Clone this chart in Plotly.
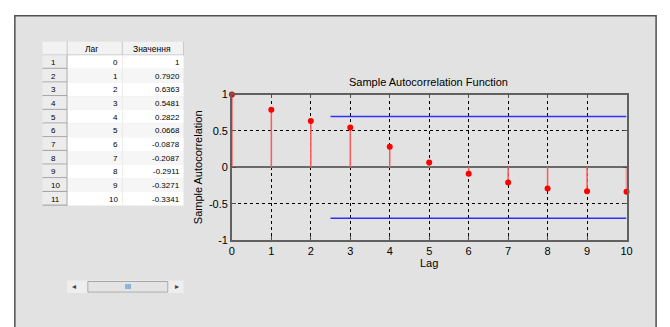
import plotly.graph_objects as go

# ---------------- data ----------------
lags = [0, 1, 2, 3, 4, 5, 6, 7, 8, 9, 10]
acf = [1, 0.7920, 0.6363, 0.5481, 0.2822, 0.0668, -0.0878, -0.2087, -0.2911, -0.3271, -0.3341]
bound_x = [2.5, 10]
bound_upper = [0.7, 0.7]
bound_lower = [-0.7, -0.7]
row_labels = ["1", "2", "3", "4", "5", "6", "7", "8", "9", "10", "11"]
col_headers = ["Лаг", "Значення"]
x_ticks = [0, 1, 2, 3, 4, 5, 6, 7, 8, 9, 10]
y_ticks = [-1, -0.5, 0, 0.5, 1]
y_ticklabels = ["-1", "-0.5", "0", "0.5", "1"]

W, H = 670, 327
def fx(p): return p / W
def fy(p): return 1 - p / H

FONT = "Liberation Sans"
BG = "#e2e2e2"

fig = go.Figure()

# stems
sx, sy = [], []
for x, v in zip(lags, acf):
    sx += [x, x, None]
    sy += [0, v, None]
fig.add_trace(go.Scatter(x=sx, y=sy, mode="lines", line=dict(color="#ff5a5a", width=1.5),
                         hoverinfo="skip", showlegend=False, cliponaxis=False))
fig.add_trace(go.Scatter(x=lags, y=acf, mode="markers", marker=dict(color="#ff0000", size=6),
                         showlegend=False, cliponaxis=False))
fig.add_trace(go.Scatter(x=bound_x, y=bound_upper, mode="lines", line=dict(color="#3030ff", width=1.5),
                         showlegend=False))
fig.add_trace(go.Scatter(x=bound_x, y=bound_lower, mode="lines", line=dict(color="#3030ff", width=1.5),
                         showlegend=False))

shapes = []
annotations = []

def text(x, y, s, size=8, xanchor="center", angle=0, family=FONT, color="#000"):
    annotations.append(dict(x=fx(x), y=fy(y), xref="paper", yref="paper", text=s, showarrow=False,
                            xanchor=xanchor, yanchor="middle", textangle=angle,
                            font=dict(family=family, size=size, color=color)))

def rect(x0, y0, x1, y1, fill, line_color=None, lw=0):
    shapes.append(dict(type="rect", xref="paper", yref="paper", x0=fx(x0), x1=fx(x1), y0=fy(y1), y1=fy(y0),
                       fillcolor=fill, line=dict(color=line_color or fill, width=lw), layer="below"))

def line(x0, y0, x1, y1, color, lw=1):
    shapes.append(dict(type="line", xref="paper", yref="paper", x0=fx(x0), x1=fx(x1), y0=fy(y0), y1=fy(y1),
                       line=dict(color=color, width=lw), layer="below"))

# outer panel
rect(12, 10, 662, 340, BG, "#505050", 1.5)

# ---------------- table ----------------
tx0, tx1, tx2, tx3 = 40, 65, 121, 183
hy0, hy1 = 37, 51
rh = 14.2
rect(tx0, hy0, tx3, hy1, "#f2f2f2")
for xx in (tx1, tx2, tx3):
    line(xx, hy0, xx, hy1, "#c8c8c8")
line(tx0, hy1, tx3, hy1, "#b0b0b0")
text(90, 44.5, col_headers[0], size=8.5)
text(151, 44.5, col_headers[1], size=8.5)

for i, (lbl, lag, v) in enumerate(zip(row_labels, lags, acf)):
    top = hy1 + i * rh
    bot = top + rh
    rect(tx0, top, tx1, bot, "#ececec")
    line(tx0, bot - 0.5, tx1, bot - 0.5, "#9a9a9a")
    line(tx1, top, tx1, bot, "#9a9a9a")
    fill = "#ffffff" if i % 2 == 0 else "#f6f6f6"
    rect(tx1 + 0.5, top, tx3, bot, fill)
    line(tx2, top, tx2, bot, "#ececec")
    cy = top + rh / 2 + 0.5
    text(47, cy, lbl, xanchor="left")
    text(119, cy, str(lag), xanchor="right")
    vt = "1" if v == 1 else f"{v:.4f}"
    text(181, cy, vt, xanchor="right")

# ---------------- scrollbar ----------------
rect(65, 285, 183, 298, "#eeeeee")
rect(86, 286, 167, 297, "#e4e4e4", "#a8a8a8", 1)
text(72, 291.5, "◂", family="DejaVu Sans", color="#404040")
text(176, 291.5, "▸", family="DejaVu Sans", color="#404040")
text(126.5, 291.5, "III", size=7, color="#404040")

# ---------------- chart labels ----------------
text(431, 79, "Sample Autocorrelation Function", size=11)
text(432, 267, "Lag", size=11)
text(198, 167, "Sample Autocorrelation", size=11, angle=-90)

fig.update_layout(
    width=W, height=H,
    margin=dict(l=0, r=0, t=0, b=0),
    paper_bgcolor="#ffffff",
    plot_bgcolor="#ffffff",
    showlegend=False,
    shapes=shapes,
    annotations=annotations,
    xaxis=dict(domain=[fx(232), fx(632)], range=[0, 10], tickvals=x_ticks, ticks="inside", ticklen=4,
               tickcolor="#505050", showgrid=True, gridcolor="#000000", griddash="dot", gridwidth=1,
               zeroline=False, showline=True, mirror="ticks", linecolor="#606060", linewidth=1.5,
               tickfont=dict(family=FONT, size=11, color="#000"), fixedrange=True),
    yaxis=dict(domain=[fy(243), fy(92)], range=[-1, 1], tickvals=y_ticks, ticktext=y_ticklabels,
               ticks="inside", ticklen=4, tickcolor="#505050", showgrid=True, gridcolor="#000000",
               griddash="dot", gridwidth=1, zeroline=True, zerolinecolor="#6a6a6a", zerolinewidth=2,
               showline=True, mirror="ticks", linecolor="#606060", linewidth=1.5,
               tickfont=dict(family=FONT, size=11, color="#000"), fixedrange=True),
)

fig.write_html("out.html")
